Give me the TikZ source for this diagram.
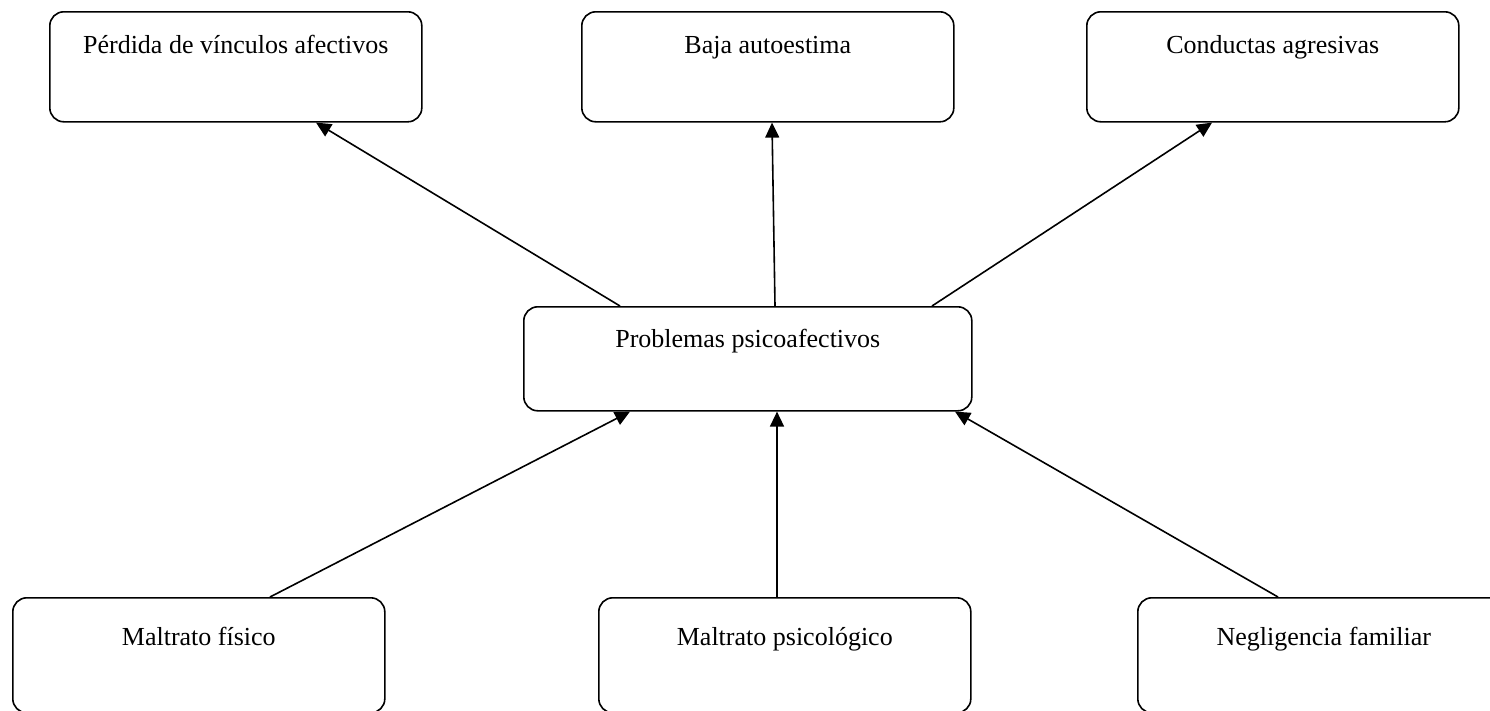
\documentclass[tikz,border=0pt]{standalone}
\usepackage{fontspec}
\setmainfont{Liberation Serif}
\usetikzlibrary{arrows.meta}

\begin{document}
\begin{tikzpicture}[
      x=1pt, y=1pt,
      causa/.style={draw, line width=1.6pt, rounded corners=14pt, anchor=north west,
        minimum width=372pt, inner xsep=0pt, inner ysep=0pt,
        font=\fontsize{26}{30}\selectfont},
      efecto/.style={causa, text height=42pt, text depth=68pt},
      raiz/.style={causa, text height=48pt, text depth=67pt},
      flecha/.style={line width=1.6pt, -{Triangle[length=15pt, width=14pt]}}
    ]
      \useasboundingbox (0,0) rectangle (1490,-710);
      \clip (0,0) rectangle (1490,-710);
      % efectos
      \node[efecto] (perdida) at (49,-11) {Pérdida de vínculos afectivos};
      \node[efecto] (baja) at (581,-11) {Baja autoestima};
      \node[efecto] (conductas) at (1086,-11) {Conductas agresivas};
      % problema central
      \node[causa, minimum width=448pt, text height=41pt, text depth=63pt] (problemas) at (523,-306) {Problemas psicoafectivos};
      % causas
      \node[raiz] (fisico) at (12,-597) {Maltrato físico};
      \node[raiz] (psicologico) at (598,-597) {Maltrato psicológico};
      \node[raiz] (negligencia) at (1137,-597) {Negligencia familiar};
      \draw[flecha] ([xshift=97pt]problemas.north west) -- ([xshift=267pt]perdida.south west);
      \draw[flecha] ([xshift=252pt]problemas.north west) -- ([xshift=191pt]baja.south west);
      \draw[flecha] ([xshift=409pt]problemas.north west) -- ([xshift=126pt]conductas.south west);
      \draw[flecha] ([xshift=258pt]fisico.north west) -- ([xshift=107pt]problemas.south west);
      \draw[flecha] ([xshift=179pt]psicologico.north west) -- ([xshift=254pt]problemas.south west);
      \draw[flecha] ([xshift=141pt]negligencia.north west) -- ([xshift=432pt]problemas.south west);
    \end{tikzpicture}
\end{document}
